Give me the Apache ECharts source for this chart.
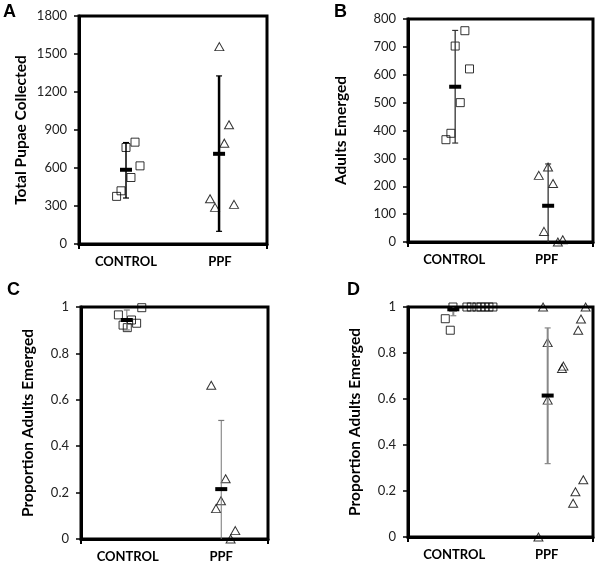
<!DOCTYPE html>
<html>
<head>
<meta charset="utf-8">
<script src="https://cdn.jsdelivr.net/npm/echarts@6/dist/echarts.min.js"></script>
<style>
html,body{margin:0;padding:0;background:#fff;}
#chart{width:600px;height:570px;}
</style>
</head>
<body>
<div id="chart"></div>
<script>
// ---------- DATA ----------
const categories = ['CONTROL', 'PPF'];
const panelLetters = ['A', 'B', 'C', 'D'];
const yTitles = ['Total Pupae Collected', 'Adults Emerged', 'Proportion Adults Emerged', 'Proportion Adults Emerged'];

// Panel A: total pupae collected
const aControl = [376, 420, 762, 525, 804, 617];
const aControlJitter = [-0.10, -0.053, 0, 0.053, 0.096, 0.149];
const aPpf = [357, 289, 1558, 796, 941, 313];
const aPpfJitter = [-0.106, -0.053, -0.007, 0.046, 0.096, 0.149];
const aMean = [586, 712];
const aLow = [363, 100];
const aHigh = [801, 1327];

// Panel B: adults emerged
const bControl = [367, 390, 703, 500, 758, 621];
const bControlJitter = [-0.09, -0.036, 0.01, 0.065, 0.115, 0.165];
const bPpf = [239, 38, 269, 210, 0, 8];
const bPpfJitter = [-0.086, -0.03, 0.014, 0.068, 0.12, 0.173];
const bMean = [557, 130];
const bLow = [355, -20];
const bHigh = [759, 280];

// Panel C: proportion adults emerged
const cControl = [0.966, 0.922, 0.911, 0.944, 0.930, 0.997];
const cControlJitter = [-0.10, -0.05, -0.005, 0.04, 0.095, 0.15];
const cPpf = [0.663, 0.131, 0.165, 0.26, 0, 0.036];
const cPpfJitter = [-0.107, -0.056, -0.003, 0.047, 0.1, 0.15];
const cMean = [0.944, 0.215];
const cLow = [0.901, -0.08];
const cHigh = [0.987, 0.511];

// Panel D: proportion adults emerged
const dControl = [0.949, 0.899, 1, 1, 1, 1, 1, 1, 1, 1];
const dControlJitter = [-0.097, -0.043, -0.014, 0.137, 0.184, 0.245, 0.289, 0.332, 0.375, 0.418];
const dPpf = [0, 1, 0.845, 0.595, 0.733, 0.743, 0.147, 0.197, 0.899, 0.948, 0.249, 1];
const dPpfJitter = [-0.09, -0.04, 0.01, 0.01, 0.165, 0.18, 0.285, 0.31, 0.34, 0.37, 0.395, 0.42];
const dMean = [0.99, 0.615];
const dLow = [0.962, 0.319];
const dHigh = [1.018, 0.909];

// y axis ranges
const yMax = [1800, 800, 1, 1];
const yInterval = [300, 100, 0.2, 0.2];
const barOffset = [[0, -0.01], [0.01, 0.015], [-0.01, 0], [-0.01, 0.01]];

// ---------- LAYOUT / STYLE ----------
const grids = [
  {left: 79, top: 16, width: 188, height: 228},
  {left: 408, top: 19, width: 185, height: 223},
  {left: 81, top: 307, width: 187, height: 232},
  {left: 408, top: 307, width: 185, height: 230}
];
const nameGaps = [50, 59, 45, 45];
const errStyles = [
  [{color: '#000', w: 1.5}, {color: '#000', w: 2.5}],
  [{color: '#333', w: 1.3}, {color: '#333', w: 1.3}],
  [{color: '#777', w: 1}, {color: '#777', w: 1}],
  [{color: '#888', w: 2}, {color: '#888', w: 2}]
];
const letterPos = [[3, 3], [334, 3], [7, 281], [347, 281]];

const panels = [
  {c: aControl, cj: aControlJitter, p: aPpf, pj: aPpfJitter, m: aMean, lo: aLow, hi: aHigh},
  {c: bControl, cj: bControlJitter, p: bPpf, pj: bPpfJitter, m: bMean, lo: bLow, hi: bHigh},
  {c: cControl, cj: cControlJitter, p: cPpf, pj: cPpfJitter, m: cMean, lo: cLow, hi: cHigh},
  {c: dControl, cj: dControlJitter, p: dPpf, pj: dPpfJitter, m: dMean, lo: dLow, hi: dHigh}
];

const FONT = 'Lato, "Open Sans", sans-serif';

const option = {
  animation: false,
  backgroundColor: '#fff',
  grid: grids.map(g => Object.assign({show: true, borderColor: '#000', borderWidth: 3, backgroundColor: 'transparent'}, g)),
  xAxis: grids.map((g, i) => ({
    type: 'value', gridIndex: i, min: 0, max: 2,
    splitLine: {show: false},
    axisLine: {show: true, lineStyle: {color: '#000', width: 3}},
    axisTick: {show: true, customValues: [0, 2], length: 5, inside: false, lineStyle: {color: '#000', width: 2}},
    axisLabel: {
      customValues: [0.5, 1.5], margin: 11,
      formatter: v => categories[Math.floor(v)],
      color: '#000', fontFamily: FONT, fontWeight: 'bold', fontSize: 13
    }
  })),
  yAxis: grids.map((g, i) => ({
    type: 'value', gridIndex: i, min: 0, max: yMax[i], interval: yInterval[i],
    name: yTitles[i], nameLocation: 'middle', nameGap: nameGaps[i],
    nameTextStyle: {color: '#000', fontFamily: FONT, fontWeight: 'bold', fontSize: 15.5},
    splitLine: {show: false},
    axisLine: {show: true, lineStyle: {color: '#000', width: 3}},
    axisTick: {show: true, length: 5, lineStyle: {color: '#000', width: 1.5}},
    axisLabel: {margin: 12, color: '#222', fontFamily: FONT, fontSize: 13,
      formatter: v => String(Math.round(v * 1000) / 1000)}
  })),
  graphic: panelLetters.map((t, i) => ({
    type: 'text', left: letterPos[i][0], top: letterPos[i][1],
    style: {text: t, font: 'bold 18px "Liberation Sans", Arial, sans-serif', fill: '#000'}
  })),
  series: []
};

panels.forEach((pn, i) => {
  option.series.push({
    type: 'scatter', xAxisIndex: i, yAxisIndex: i, symbol: 'rect', symbolSize: 8,
    itemStyle: {color: 'rgba(0,0,0,0)', borderColor: '#000', borderWidth: 1},
    data: pn.c.map((v, k) => [0.5 + pn.cj[k], v]), z: 3
  });
  option.series.push({
    type: 'scatter', xAxisIndex: i, yAxisIndex: i, symbol: 'triangle', symbolSize: [9, 8],
    itemStyle: {color: 'rgba(0,0,0,0)', borderColor: '#000', borderWidth: 1},
    data: pn.p.map((v, k) => [1.5 + pn.pj[k], v]), z: 3
  });
  const styles = errStyles[i];
  option.series.push({
    type: 'custom', xAxisIndex: i, yAxisIndex: i, clip: true, z: 4,
    data: pn.m.map((m, k) => [0.5 + k + barOffset[i][k], m, pn.lo[k], pn.hi[k], k]),
    renderItem: function (params, api) {
      const x = api.value(0), m = api.value(1), lo = api.value(2), hi = api.value(3), k = api.value(4);
      const st = styles[k];
      const top = api.coord([x, hi]);
      const bot = api.coord([x, lo]);
      const mid = api.coord([x, m]);
      const cw = 3;
      const ls = {stroke: st.color, lineWidth: st.w};
      const capStyle = {stroke: st.color, lineWidth: 1.2};
      return {
        type: 'group',
        children: [
          {type: 'line', shape: {x1: top[0], y1: top[1], x2: bot[0], y2: bot[1]}, style: ls},
          {type: 'line', shape: {x1: top[0] - cw, y1: top[1], x2: top[0] + cw, y2: top[1]}, style: capStyle},
          {type: 'line', shape: {x1: bot[0] - cw, y1: bot[1], x2: bot[0] + cw, y2: bot[1]}, style: capStyle},
          {type: 'rect', shape: {x: mid[0] - 6, y: mid[1] - 2, width: 12, height: 4}, style: {fill: '#000'}}
        ]
      };
    }
  });
});

const chart = echarts.init(document.getElementById('chart'), null, {renderer: 'canvas'});
chart.setOption(option);
</script>
</body>
</html>
